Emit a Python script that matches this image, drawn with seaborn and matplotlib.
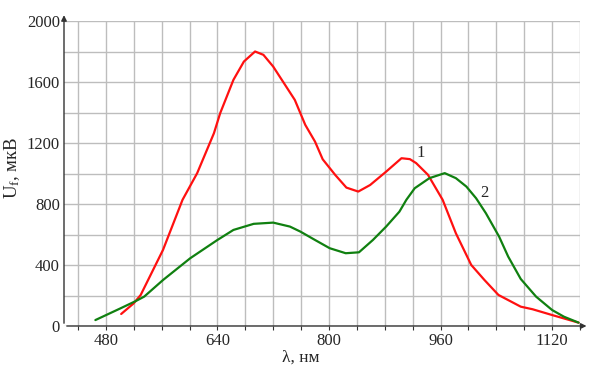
import matplotlib
matplotlib.use("Agg")
import matplotlib.pyplot as plt
from matplotlib.ticker import MultipleLocator
import seaborn as sns
import pandas as pd

# Curve 1 (red)
wl1 = [502, 520, 530, 562, 590, 611, 635, 644, 663, 678, 694, 706, 720, 737, 751, 766,
       780, 791, 809, 825, 842, 859, 882, 904, 916, 925, 942, 963, 982, 1004, 1023,
       1043, 1075, 1092, 1120, 1158]
u1 = [79, 149, 204, 500, 829, 1004, 1266, 1398, 1617, 1737, 1803, 1781, 1704, 1584, 1485, 1321,
      1211, 1095, 992, 909, 883, 926, 1014, 1102, 1096, 1070, 993, 829, 609, 401, 302,
      204, 127, 110, 72, 22]
# Curve 2 (green)
wl2 = [465, 501, 523, 535, 562, 601, 640, 663, 692, 720, 744, 759, 780, 801, 824, 843,
       863, 882, 901, 911, 923, 944, 966, 982, 997, 1011, 1025, 1044, 1057, 1075, 1097,
       1120, 1137, 1158]
u2 = [39, 116, 164, 193, 302, 445, 565, 631, 671, 679, 653, 620, 565, 511, 478, 484,
      565, 653, 751, 829, 905, 971, 1004, 971, 916, 839, 741, 587, 456, 309, 193,
      105, 61, 22]

x_major = [480, 640, 800, 960, 1120]
y_major = [0, 400, 800, 1200, 1600, 2000]

sns.set_theme(style="white")
plt.rcParams['font.family'] = ['Liberation Serif', 'DejaVu Serif']
plt.rcParams['mathtext.fontset'] = 'custom'
plt.rcParams['mathtext.rm'] = 'Liberation Serif'
plt.rcParams['mathtext.it'] = 'Liberation Serif:italic'

df1 = pd.DataFrame({"wl": wl1, "u": u1})
df2 = pd.DataFrame({"wl": wl2, "u": u2})

fig = plt.figure(figsize=(6.02, 3.75), dpi=100)
ax = fig.add_axes([64/602, 1-326/375, (580-64)/602, (326-21.5)/375])

ax.set_xlim(420, 1160)
ax.set_ylim(0, 2000)
ax.set_xticks(x_major)
ax.set_yticks(y_major)
ax.xaxis.set_minor_locator(MultipleLocator(40))
ax.yaxis.set_minor_locator(MultipleLocator(200))
ax.grid(True, which='both', color='#bdbdbd', lw=1.0)
ax.set_axisbelow(True)

sns.lineplot(data=df1, x="wl", y="u", sort=False, color='#ff1010', lw=1.6, ax=ax)
sns.lineplot(data=df2, x="wl", y="u", sort=False, color='#108010', lw=1.6, ax=ax)

for s in ['top', 'right', 'left', 'bottom']:
    ax.spines[s].set_visible(False)
ax.annotate('', xy=(1.018, 0), xytext=(0, 0), xycoords='axes fraction',
            arrowprops=dict(arrowstyle='-|>', color='#333333', lw=1.0, mutation_scale=8), annotation_clip=False)
ax.annotate('', xy=(0, 1.03), xytext=(0, 0), xycoords='axes fraction',
            arrowprops=dict(arrowstyle='-|>', color='#333333', lw=1.0, mutation_scale=8), annotation_clip=False)

ax.tick_params(axis='x', which='both', direction='out', length=3, width=0.8, color='#333333',
               labelsize=12, pad=2, bottom=True)
ax.tick_params(axis='y', which='both', length=0, labelsize=12, pad=3)
ax.tick_params(axis='x', which='minor', labelbottom=False)

ax.set_xlabel('λ, нм', fontsize=12.5, va='center')
ax.xaxis.set_label_coords((301-64)/516, (326-358)/304.5)
ax.set_ylabel('U$_\\mathrm{f}$, мкВ', fontsize=13.5, va='center')
ax.yaxis.set_label_coords((12-64)/516, (326-168)/304.5)

ax.text(932, 1135, '1', fontsize=12, ha='center', va='center')
ax.text(1023, 875, '2', fontsize=12, ha='center', va='center')

fig.savefig('out.png', dpi=100)
